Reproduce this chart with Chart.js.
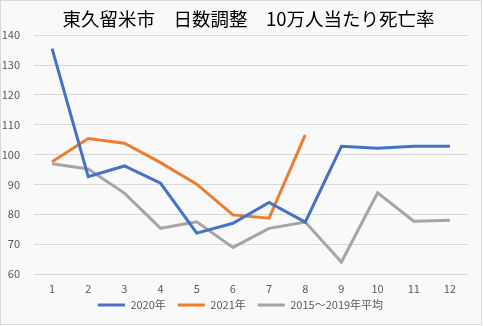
<!DOCTYPE html>
<html>
<head>
<meta charset="utf-8">
<script src="https://cdn.jsdelivr.net/npm/chart.js@4/dist/chart.umd.min.js"></script>
<style>
  html, body { margin: 0; padding: 0; background: #fff; }
  #box {
    width: 482px; height: 325px; box-sizing: border-box;
    border: 1px solid #d9d9d9; background: #f9f9f9;
  }
  #wrap { position: relative; width: 480px; height: 323px; }
</style>
</head>
<body>
<div id="box"><div id="wrap"><canvas id="deathChart"></canvas></div></div>
<script>
// 月（1〜12）
const months = ['1', '2', '3', '4', '5', '6', '7', '8', '9', '10', '11', '12'];

// 10万人当たり死亡率（日数調整）
const rate2020 = [135.5, 92.6, 96.2, 90.4, 73.7, 77.0, 84.0, 77.4, 102.8, 102.1, 102.8, 102.8];
const rate2021 = [97.6, 105.4, 103.8, 97.3, 90.1, 79.8, 78.7, 106.6];
const rateAvg = [96.9, 95.2, 87.1, 75.3, 77.5, 68.9, 75.3, 77.4, 64.0, 87.2, 77.7, 78.0];

const seriesNames = ['2020年', '2021年', '2015～2019年平均'];
const seriesColors = ['#4472C4', '#ED7D31', '#A5A5A5'];

const fontFamily = '"Noto Sans CJK JP", "Noto Sans", sans-serif';

// タイトルと凡例の位置を微調整
const nudgeBoxes = {
    id: 'nudgeBoxes',
    afterLayout(chart) {
        const t = chart.titleBlock, lg = chart.legend;
        if (t) { t.left += 14; t.right += 14; }
        if (lg) {
            lg.top -= 8.5; lg.bottom -= 8.5;
            lg.left += 6; lg.right += 6;
        }
    }
};

const ctx = document.getElementById('deathChart').getContext('2d');
new Chart(ctx, {
    type: 'line',
    data: {
        labels: months,
        datasets: [rate2020, rate2021, rateAvg].map((vals, i) => ({
            label: seriesNames[i],
            data: vals,
            borderColor: seriesColors[i],
            backgroundColor: seriesColors[i],
            borderWidth: 3,
            pointRadius: 0,
            tension: 0,
            fill: false
        }))
    },
    plugins: [nudgeBoxes],
    options: {
        responsive: true,
        maintainAspectRatio: false,
        animation: false,
        layout: { padding: { left: 0, right: 13, top: 0, bottom: -5 } },
        plugins: {
            title: {
                display: true,
                text: '東久留米市　日数調整　10万人当たり死亡率',
                color: '#000',
                font: { family: fontFamily, size: 18.5, weight: 'normal' },
                padding: { top: 7, bottom: 5 }
            },
            legend: {
                position: 'bottom',
                labels: {
                    boxWidth: 27,
                    boxHeight: 3,
                    padding: 12,
                    color: '#595959',
                    font: { family: fontFamily, size: 11 },
                    generateLabels: (chart) =>
                        Chart.defaults.plugins.legend.labels.generateLabels(chart)
                            .map(item => ({ ...item, lineWidth: 0 }))
                }
            },
            tooltip: { enabled: false }
        },
        scales: {
            x: {
                offset: true,
                grid: { display: false, drawTicks: false },
                border: { display: false },
                ticks: {
                    color: '#595959',
                    font: { family: fontFamily, size: 11 },
                    padding: 8
                },
                afterFit: (scale) => { scale.height = 22; }
            },
            y: {
                min: 60,
                max: 140,
                ticks: {
                    stepSize: 10,
                    color: '#595959',
                    font: { family: fontFamily, size: 11 },
                    padding: 14
                },
                grid: { color: '#d9d9d9', drawTicks: false },
                border: { display: false },
                afterFit: (scale) => { scale.width = 33; }
            }
        }
    }
});
</script>
</body>
</html>
